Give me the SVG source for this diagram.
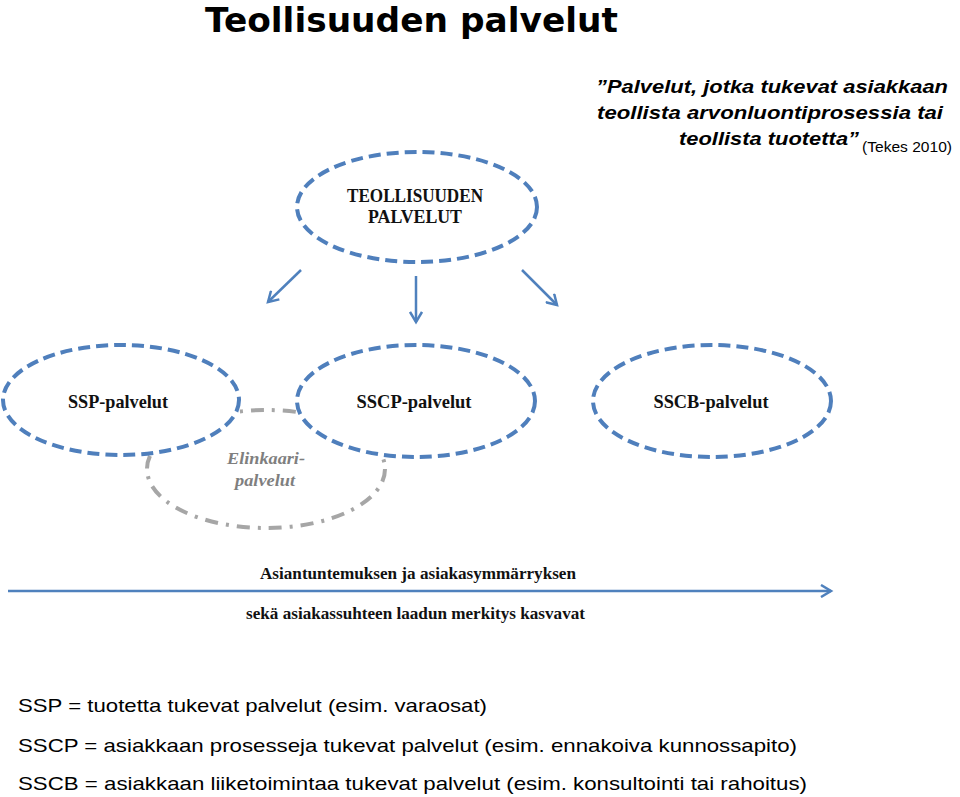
<svg xmlns="http://www.w3.org/2000/svg" width="960" height="797" viewBox="0 0 960 797">
<style>
.blue{fill:#fff;stroke:#4f7fbc;stroke-width:4;stroke-dasharray:12 6}
.gray{fill:#fff;stroke:#a6a6a6;stroke-width:4;stroke-dasharray:13 8 3 8}
.conn{stroke:#4f81bd;stroke-width:2.5;fill:none}
.node{font-family:"Liberation Serif",serif;font-weight:bold;fill:#111;text-anchor:middle}
.sans{font-family:"Liberation Sans",Arial,sans-serif;fill:#000}
</style>
<defs>
<marker id="ah" markerWidth="14" markerHeight="14" refX="11" refY="7" orient="auto" markerUnits="userSpaceOnUse">
<path d="M1,1 L11,7 L1,13" fill="none" stroke="#4f81bd" stroke-width="2.5"/>
</marker>
</defs>
<rect width="960" height="797" fill="#fff"/>
<text x="205" y="32" font-family="DejaVu Sans,Verdana,sans-serif" font-weight="bold" font-size="34" textLength="413" lengthAdjust="spacingAndGlyphs">Teollisuuden palvelut</text>
<g id="quote" class="sans" font-weight="bold" font-style="italic" font-size="19">
<text x="596" y="93" textLength="352" lengthAdjust="spacingAndGlyphs">”Palvelut, jotka tukevat asiakkaan</text>
<text x="597" y="119" textLength="346" lengthAdjust="spacingAndGlyphs">teollista arvonluontiprosessia tai</text>
<text x="679" y="145" textLength="180" lengthAdjust="spacingAndGlyphs">teollista tuotetta”</text>
<text x="862" y="152" font-weight="normal" font-style="normal" font-size="15" textLength="90" lengthAdjust="spacingAndGlyphs">(Tekes 2010)</text>
</g>
<g id="n-elinkaari">
<ellipse class="gray" cx="266" cy="469" rx="119" ry="59"/>
<text x="266" y="464" font-family="Liberation Serif,serif" font-weight="bold" font-style="italic" font-size="17" fill="#7f7f7f" text-anchor="middle" textLength="78" lengthAdjust="spacingAndGlyphs">Elinkaari-</text>
<text x="265" y="486" font-family="Liberation Serif,serif" font-weight="bold" font-style="italic" font-size="17" fill="#7f7f7f" text-anchor="middle" textLength="60" lengthAdjust="spacingAndGlyphs">palvelut</text>
</g>
<g id="n-top">
<ellipse class="blue" cx="417" cy="207" rx="120" ry="55"/>
<text class="node" x="415" y="202" font-size="18" textLength="136" lengthAdjust="spacingAndGlyphs">TEOLLISUUDEN</text>
<text class="node" x="415" y="223" font-size="18" textLength="94" lengthAdjust="spacingAndGlyphs">PALVELUT</text>
</g>
<g id="n-ssp">
<ellipse class="blue" cx="121" cy="400" rx="118" ry="55"/>
<text class="node" x="118" y="408" font-size="19" textLength="100" lengthAdjust="spacingAndGlyphs">SSP-palvelut</text>
</g>
<g id="n-sscp">
<ellipse class="blue" cx="416" cy="401" rx="119" ry="56"/>
<text class="node" x="414" y="408" font-size="19" textLength="115" lengthAdjust="spacingAndGlyphs">SSCP-palvelut</text>
</g>
<g id="n-sscb">
<ellipse class="blue" cx="712" cy="401" rx="119" ry="56"/>
<text class="node" x="711" y="408" font-size="19" textLength="115" lengthAdjust="spacingAndGlyphs">SSCB-palvelut</text>
</g>
<g id="connectors">
<line class="conn" x1="301" y1="270" x2="268" y2="302" marker-end="url(#ah)"/>
<line class="conn" x1="416" y1="276" x2="416" y2="322" marker-end="url(#ah)"/>
<line class="conn" x1="522" y1="270" x2="557" y2="305" marker-end="url(#ah)"/>
<line class="conn" x1="8" y1="591" x2="831" y2="591" marker-end="url(#ah)"/>
</g>
<g id="axis-labels" font-family="Liberation Serif,serif" font-weight="bold" font-size="17" fill="#111">
<text x="260" y="579" textLength="316" lengthAdjust="spacingAndGlyphs">Asiantuntemuksen ja asiakasymmärryksen</text>
<text x="246" y="619" textLength="339" lengthAdjust="spacingAndGlyphs">sekä asiakassuhteen laadun merkitys kasvavat</text>
</g>
<g id="legend" class="sans" font-size="19">
<text x="18" y="712" textLength="469" lengthAdjust="spacingAndGlyphs">SSP = tuotetta tukevat palvelut (esim. varaosat)</text>
<text x="18" y="752" textLength="779" lengthAdjust="spacingAndGlyphs">SSCP = asiakkaan prosesseja tukevat palvelut (esim. ennakoiva kunnossapito)</text>
<text x="18" y="790" textLength="789" lengthAdjust="spacingAndGlyphs">SSCB = asiakkaan liiketoimintaa tukevat palvelut (esim. konsultointi tai rahoitus)</text>
</g>
</svg>
